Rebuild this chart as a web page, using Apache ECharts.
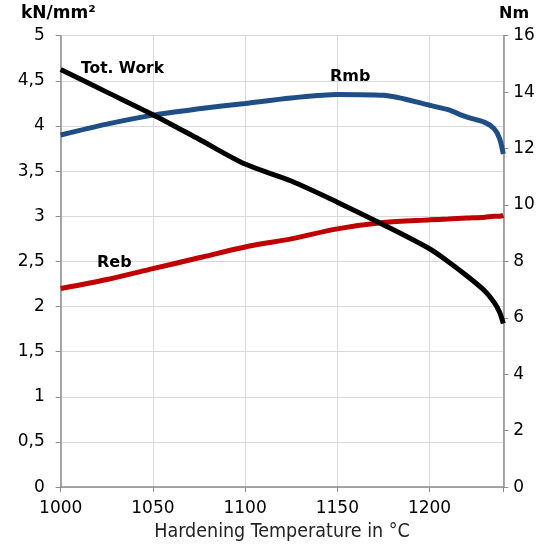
<!DOCTYPE html>
<html>
<head>
<meta charset="utf-8">
<script src="https://cdn.jsdelivr.net/npm/echarts@6/dist/echarts.min.js"></script>
<style>html,body{margin:0;padding:0;background:#fff;}#c{width:554px;height:547px;}</style>
</head>
<body>
<div id="c"></div>
<script>
// Hardening temperature (°C)
var temps = [1000, 1025, 1050, 1075, 1100, 1125, 1150, 1175, 1200, 1210, 1220, 1230, 1235, 1238, 1240];
// Rmb (kN/mm², left axis)
var rmb = [3.90, 4.02, 4.12, 4.19, 4.25, 4.31, 4.35, 4.34, 4.23, 4.18, 4.10, 4.04, 3.97, 3.86, 3.69];
// Reb (kN/mm², left axis)
var reb = [2.20, 2.30, 2.42, 2.54, 2.66, 2.75, 2.86, 2.93, 2.96, 2.97, 2.98, 2.99, 3.00, 3.00, 3.01];
// Tot. Work (Nm, right axis)
var totWork = [14.8, 14.0, 13.2, 12.33, 11.45, 10.85, 10.1, 9.3, 8.45, 8.0, 7.5, 6.95, 6.55, 6.2, 5.8];

function pairs(ys) { return temps.map(function (t, i) { return [t, ys[i]]; }); }

var chart = echarts.init(document.getElementById('c'), null, { renderer: 'canvas' });
var axisColor = '#8c8c8c';
var font = 'DejaVu Sans';
chart.setOption({
  animation: false,
  backgroundColor: '#fff',
  grid: { left: 60.7, right: 50.7, top: 35.7, bottom: 56.5, containLabel: false },
  xAxis: {
    type: 'value', min: 1000, max: 1240, interval: 50,
    name: 'Hardening Temperature in °C', nameLocation: 'middle', nameGap: 31,
    nameTextStyle: { fontFamily: '"DejaVu Sans Condensed", "DejaVu Sans", sans-serif', fontSize: 19.5, color: '#222' },
    axisLine: { lineStyle: { color: axisColor, width: 1.5 } },
    axisTick: { show: true, length: 5, lineStyle: { color: axisColor } },
    axisLabel: { fontFamily: font, fontSize: 17, color: '#000', margin: 13,
      formatter: function (v) { return v % 50 === 0 ? String(v) : ''; } },
    splitLine: { show: true, lineStyle: { color: '#d9d9d9', width: 1 } }
  },
  yAxis: [{
    type: 'value', min: 0, max: 5, interval: 0.5,
    axisLine: { show: true, lineStyle: { color: axisColor, width: 1.5 } },
    axisTick: { show: true, length: 5, lineStyle: { color: axisColor } },
    axisLabel: { fontFamily: font, fontSize: 17, color: '#000', margin: 16,
      formatter: function (v) { return String(v).replace('.', ','); } },
    splitLine: { show: true, lineStyle: { color: '#d9d9d9', width: 1 } }
  }, {
    type: 'value', min: 0, max: 16, interval: 2, position: 'right',
    axisLine: { show: true, lineStyle: { color: axisColor, width: 1.5 } },
    axisTick: { show: true, length: 5, lineStyle: { color: axisColor } },
    axisLabel: { fontFamily: font, fontSize: 17, color: '#000', margin: 10 },
    splitLine: { show: false }
  }],
  series: [{
    name: 'Rmb', type: 'line', yAxisIndex: 0, data: pairs(rmb), smooth: 0.3,
    showSymbol: false, lineStyle: { color: '#1f4e85', width: 5 }, z: 3
  }, {
    name: 'Reb', type: 'line', yAxisIndex: 0, data: pairs(reb), smooth: 0.3,
    showSymbol: false, lineStyle: { color: '#c00000', width: 5 }, z: 3
  }, {
    name: 'Tot. Work', type: 'line', yAxisIndex: 1, data: pairs(totWork), smooth: 0.3,
    showSymbol: false, lineStyle: { color: '#000000', width: 5 }, z: 4
  }],
  graphic: [
    { type: 'text', z: 100, left: 21, top: 5, style: { text: 'kN/mm²', font: 'bold 17px "DejaVu Sans"', fill: '#000' } },
    { type: 'text', z: 100, left: 499, top: 6, style: { text: 'Nm', font: 'bold 16px "DejaVu Sans"', fill: '#000' } },
    { type: 'text', z: 100, left: 81, top: 61, style: { text: 'Tot. Work', font: 'bold 15.5px "DejaVu Sans"', fill: '#000' } },
    { type: 'text', z: 100, left: 330, top: 69, style: { text: 'Rmb', font: 'bold 16px "DejaVu Sans"', fill: '#000' } },
    { type: 'text', z: 100, left: 97, top: 255, style: { text: 'Reb', font: 'bold 16px "DejaVu Sans"', fill: '#000' } }
  ]
});
</script>
</body>
</html>
